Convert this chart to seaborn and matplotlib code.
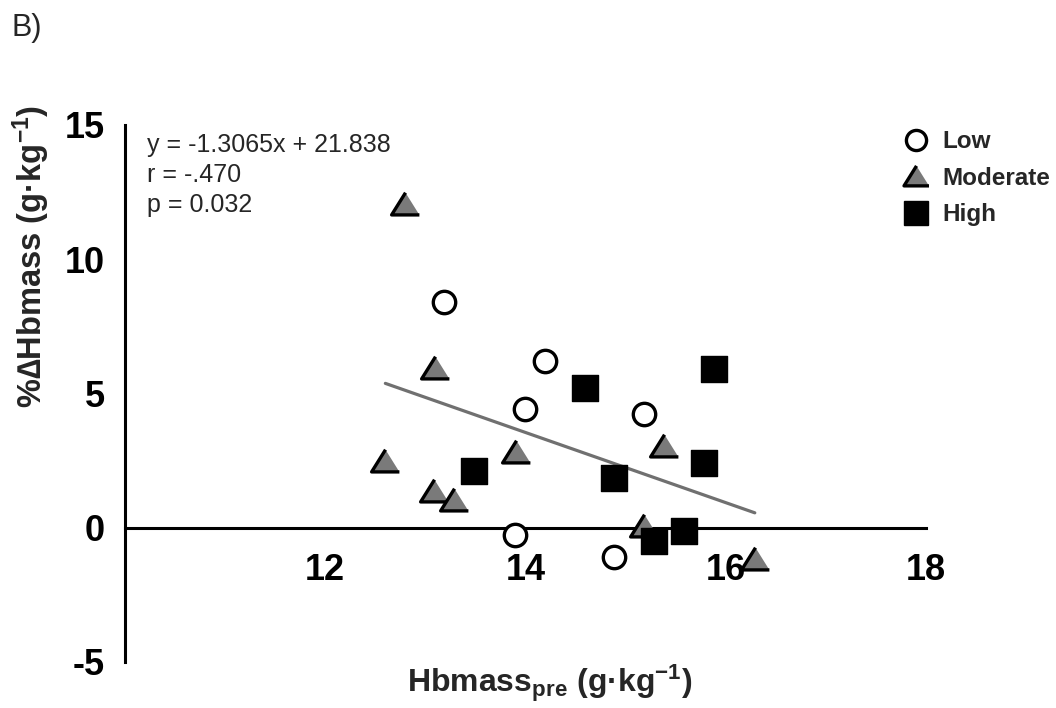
import numpy as np
import pandas as pd
import matplotlib
matplotlib.use("Agg")
import matplotlib.pyplot as plt
import seaborn as sns
from matplotlib.lines import Line2D

# ---- data ----
low_x = [13.19, 14.19, 13.99, 15.18, 13.89, 14.88]
low_y = [8.41, 6.21, 4.41, 4.23, -0.28, -1.09]
mod_x = [12.80, 13.10, 12.60, 13.90, 13.09, 13.29, 15.38, 15.18, 16.29]
mod_y = [12.07, 5.93, 2.49, 2.82, 1.37, 1.05, 3.04, 0.05, -1.15]
high_x = [14.59, 15.88, 13.49, 14.88, 15.78, 15.58, 15.28]
high_y = [5.21, 5.90, 2.12, 1.86, 2.41, -0.12, -0.50]
slope, intercept = -1.3065, 21.838
groups = ["Low", "Moderate", "High"]
x_ticks = [12, 14, 16, 18]
y_ticks = [-5, 0, 5, 10, 15]

sns.set_style("white")
plt.rcParams['font.family'] = ['Liberation Sans', 'DejaVu Sans']
plt.rcParams['axes.unicode_minus'] = False
plt.rcParams['mathtext.default'] = 'regular'

fig = plt.figure(figsize=(10.56, 7.08), dpi=100)
ax = fig.add_axes([0.1184, 0.065, 0.7585, 0.7585])

df = pd.DataFrame({
    "x": low_x + mod_x + high_x,
    "y": low_y + mod_y + high_y,
    "group": ["Low"] * len(low_x) + ["Moderate"] * len(mod_x) + ["High"] * len(high_x),
})

# regression line over data range
all_x = np.array(df["x"])
lx = np.array([all_x.min(), all_x.max()])
line_df = pd.DataFrame({"x": lx, "y": slope * lx + intercept})
sns.lineplot(data=line_df, x="x", y="y", ax=ax, color="#707070", linewidth=2.3, zorder=2)

tri = [(0, 0.85), (-1, -0.75), (1, -0.75)]
styles = {
    "Low": dict(marker="o", s=260, facecolor="white", edgecolor="black", linewidth=2.4),
    "Moderate": dict(marker=tri, s=400, facecolor="#7a7a7a", edgecolor="black", linewidth=2.4),
    "High": dict(marker="s", s=340, facecolor="black", edgecolor="black", linewidth=1.0),
}
for g in ["Moderate", "Low", "High"]:
    sub = df[df["group"] == g]
    st = styles[g]
    sns.scatterplot(data=sub, x="x", y="y", ax=ax, marker=st["marker"], s=st["s"],
                    color=st["facecolor"], edgecolor=st["edgecolor"],
                    linewidth=st["linewidth"], zorder=3, legend=False)

ax.set_xlim(10, 18)
ax.set_ylim(-5, 15)
ax.set_xticks(x_ticks)
ax.set_yticks(y_ticks)
ax.spines['top'].set_visible(False)
ax.spines['right'].set_visible(False)
ax.spines['bottom'].set_position(('data', 0))
for sp in ['left', 'bottom']:
    ax.spines[sp].set_linewidth(2.2)
    ax.spines[sp].set_color('black')
ax.tick_params(axis='both', direction='out', length=9.5, width=2.2, colors='black',
               labelsize=26, pad=5)
ax.tick_params(axis='x', pad=9)
for lab in ax.get_xticklabels() + ax.get_yticklabels():
    lab.set_fontweight('bold')

ax.set_xlabel("Hbmass$_{pre}$ (g·kg$^{-1}$)", fontsize=23, fontweight='bold')
ax.set_ylabel("%∆Hbmass (g·kg$^{-1}$)", fontsize=23.5, fontweight='bold')
ax.xaxis.label.set_va('center')
ax.xaxis.set_label_coords(0.53, -0.04)
ax.yaxis.set_label_coords(-0.091, 0.755)

fig.text(0.011, 0.982, "B)", fontsize=22, va='top', ha='left')
fig.text(0.139, 0.812, "y = -1.3065x + 21.838\nr = -.470\np = 0.032", fontsize=18,
         va='top', ha='left', linespacing=1.3)

handles = []
for g in groups:
    st = styles[g]
    handles.append(Line2D([0], [0], linestyle='none', marker=st["marker"],
                          markersize=np.sqrt(st["s"]) * 0.9,
                          markerfacecolor=st["facecolor"], markeredgecolor=st["edgecolor"],
                          markeredgewidth=st["linewidth"], label=g))
leg = ax.legend(handles=handles, loc='upper left', bbox_to_anchor=(0.856, 0.816),
                bbox_transform=fig.transFigure, frameon=False, handlelength=1.0,
                handletextpad=0.6, borderpad=0, labelspacing=0.55,
                prop={'weight': 'bold', 'size': 17.5}, borderaxespad=0)

fig.savefig("out.png", dpi=100)
